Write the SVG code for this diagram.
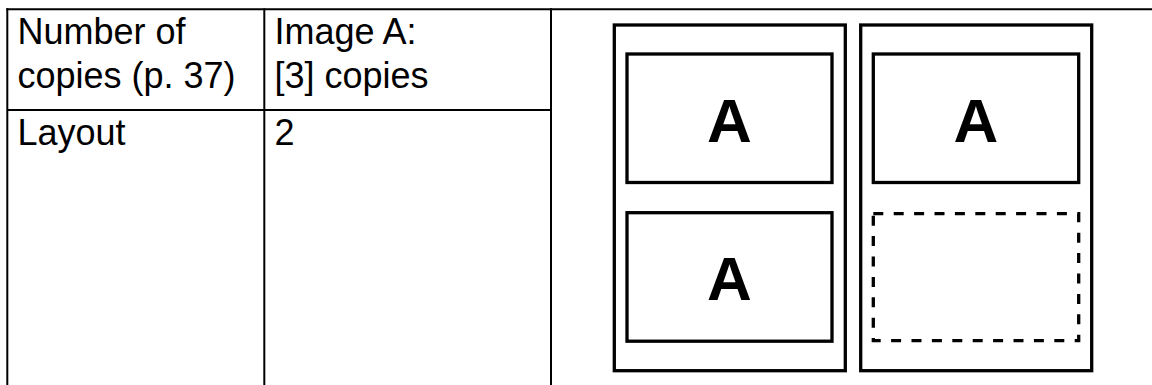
<svg xmlns="http://www.w3.org/2000/svg" width="1152" height="385" viewBox="0 0 1152 385">
<style>
.grid{stroke:#000;stroke-width:2;fill:none}
.txt{font-family:"Liberation Sans",Arial,Helvetica,sans-serif;font-size:36px;fill:#000}
.page{fill:#fff;stroke:#000;stroke-width:3.3}
.img{fill:#fff;stroke:#000;stroke-width:3.3}
.dash{fill:none;stroke:#000;stroke-width:3.3;stroke-dasharray:10 10.4}
.big{font-family:"Liberation Sans",Arial,Helvetica,sans-serif;font-size:62px;font-weight:bold;fill:#000;text-anchor:middle}
</style>
<rect width="1152" height="385" fill="#fff"/>
<g id="table">
<line class="grid" x1="6.3" y1="9.3" x2="1152" y2="9.3"/>
<line class="grid" x1="7.3" y1="8.3" x2="7.3" y2="385"/>
<line class="grid" x1="264.3" y1="8.3" x2="264.3" y2="385"/>
<line class="grid" x1="551" y1="8.3" x2="551" y2="385"/>
<line class="grid" x1="7.3" y1="110" x2="551" y2="110"/>
</g>
<g id="cell-label-copies"><text class="txt" x="17.5" y="44">Number of</text><text class="txt" x="17.5" y="88">copies (p. 37)</text></g>
<g id="cell-value-copies"><text class="txt" x="274.5" y="44">Image A:</text><text class="txt" x="274.5" y="88">[3] copies</text></g>
<g id="cell-label-layout"><text class="txt" x="17.5" y="145">Layout</text></g>
<g id="cell-value-layout"><text class="txt" x="274.5" y="145">2</text></g>
<g id="page1">
<rect class="page" x="614.3" y="25" width="231" height="345.7"/>
<rect class="img" x="627" y="54" width="205" height="128.5"/>
<text class="big" x="729.5" y="141.5">A</text>
<rect class="img" x="627" y="212.7" width="205" height="128.5"/>
<text class="big" x="729.5" y="300">A</text>
</g>
<g id="page2">
<rect class="page" x="860.7" y="25" width="231" height="345.7"/>
<rect class="img" x="873.3" y="54" width="205.4" height="128.5"/>
<text class="big" x="976" y="141.5">A</text>
<rect class="dash" x="873.3" y="213.7" width="205.4" height="127"/>
</g>
<g id="connectors"/>
</svg>
